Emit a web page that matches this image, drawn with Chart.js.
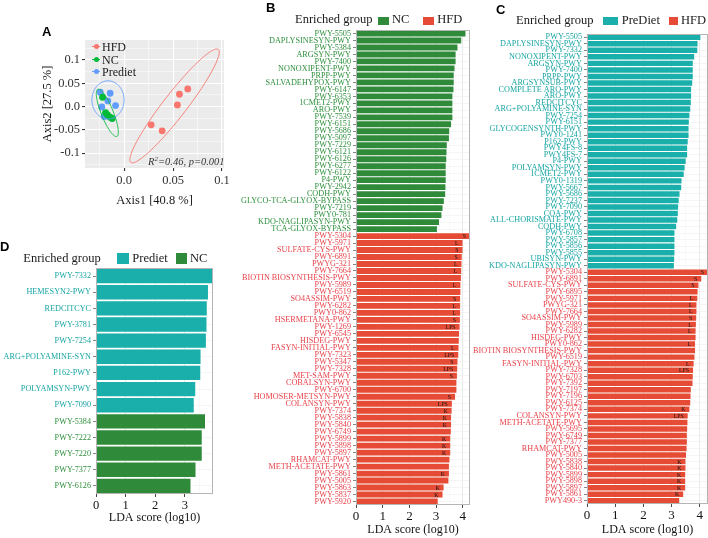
<!DOCTYPE html>
<html>
<head>
<meta charset="utf-8">
<script src="https://cdn.jsdelivr.net/npm/chart.js@4.4.0/dist/chart.umd.min.js"></script>
<style>
    body { margin: 0; background: #fff; width: 708px; height: 538px; position: relative; overflow: hidden; font-family: 'Liberation Serif', 'Times New Roman', serif; }
    canvas { position: absolute; }
    .letter { position: absolute; font: bold 13px 'Liberation Sans', Arial, sans-serif; line-height: 1; }
    .txt { position: absolute; white-space: nowrap; font-size: 12.5px; line-height: 1; color: #1a1a1a; }
    .sw { position: absolute; }
    .dot { position: absolute; width: 5px; height: 5px; border-radius: 50%; }
    .ln { position: absolute; width: 8px; height: 1px; }
</style>
</head>
<body>
<canvas id="chartA" width="240" height="215" style="left:0;top:0"></canvas>
<canvas id="chartB" width="230" height="538" style="left:240px;top:0"></canvas>
<canvas id="chartC" width="238" height="538" style="left:470px;top:0"></canvas>
<canvas id="chartD" width="240" height="313" style="left:0;top:225px"></canvas>

<!-- panel letters -->
<div class="letter" style="left:42px;top:25px">A</div>
<div class="letter" style="left:266px;top:1px">B</div>
<div class="letter" style="left:496px;top:3px">C</div>
<div class="letter" style="left:0;top:240px">D</div>

<!-- A legend -->
<div class="ln" style="left:92px;top:46px;background:#F8766D"></div><div class="dot" style="left:93.5px;top:44px;background:#F8766D"></div>
<div class="txt" style="left:102px;top:40.5px;font-size:12px">HFD</div>
<div class="ln" style="left:92px;top:59px;background:#00BA38"></div><div class="dot" style="left:93.5px;top:57px;background:#00BA38"></div>
<div class="txt" style="left:102px;top:53.5px;font-size:12px">NC</div>
<div class="ln" style="left:92px;top:71px;background:#619CFF"></div><div class="dot" style="left:93.5px;top:69px;background:#619CFF"></div>
<div class="txt" style="left:102px;top:65.5px;font-size:12px">Prediet</div>
<div class="txt" style="left:148px;top:156px;font-size:10.5px;font-style:italic;color:#333">R<sup style="font-size:7px;vertical-align:4px">2</sup>=0.46, p=0.001</div>

<!-- B legend -->
<div class="txt" style="left:295px;top:13px">Enriched group</div>
<div class="sw" style="left:377.7px;top:17px;width:11.3px;height:8.3px;background:#2F8B3A"></div>
<div class="txt" style="left:392px;top:13px">NC</div>
<div class="sw" style="left:422.7px;top:17px;width:11.3px;height:8.3px;background:#E64B35"></div>
<div class="txt" style="left:437.3px;top:13px">HFD</div>

<!-- C legend -->
<div class="txt" style="left:516px;top:14px">Enriched group</div>
<div class="sw" style="left:603.3px;top:16.7px;width:15px;height:8.3px;background:#1AAFAA"></div>
<div class="txt" style="left:621.7px;top:14px">PreDiet</div>
<div class="sw" style="left:669px;top:16.7px;width:9.3px;height:8.3px;background:#E64B35"></div>
<div class="txt" style="left:681px;top:14px">HFD</div>

<!-- D legend -->
<div class="txt" style="left:23.3px;top:251.5px">Enriched group</div>
<div class="sw" style="left:116.7px;top:253.3px;width:12.6px;height:11px;background:#1AAFAA"></div>
<div class="txt" style="left:132.3px;top:252px">Prediet</div>
<div class="sw" style="left:175.7px;top:253.3px;width:11.3px;height:11px;background:#2F8B3A"></div>
<div class="txt" style="left:190px;top:252px">NC</div>

<script>
// ---- Panel A: PCoA ----
const hfdX = [0.0565, 0.0650, 0.0544, 0.0276, 0.0388];
const hfdY = [0.0264, 0.0379, 0.0036, -0.0393, -0.0521];
const ncX = [-0.0221, -0.0190, -0.0170, -0.0143, -0.0122];
const ncY = [0.0200, -0.0129, -0.0179, -0.0229, -0.0257];
const prediX = [-0.0245, -0.0143, -0.0167, -0.0088, -0.0228, -0.0204];
const prediY = [0.0307, 0.0286, 0.0121, 0.0021, -0.0007, -0.0214];

// ellipses: group, center, major and minor half-axis vectors (data units)
const ellGroup = ['HFD', 'NC', 'Prediet'];
const ellCx = [0.0515, -0.0172, -0.0165];
const ellCy = [0.0014, -0.0136, 0.0143];
const ellAx = [0.0447, 0.0097, 0.0];
const ellAy = [0.1214, -0.0507, 0.0410];
const ellBx = [0.0094, 0.0057, 0.0164];
const ellBy = [-0.0153, 0.0048, 0.0];

const aXTicks = [0, 0.05, 0.1];
const aXTickText = ['0.0', '0.05', '0.1'];
const aXGrid = [-0.025, 0, 0.025, 0.05, 0.075, 0.1];
const aYTicks = [-0.1, -0.05, 0, 0.05, 0.1];
const aYTickText = ['-0.1', '-0.05', '0.0', '0.05', '0.1'];
const aYGrid = [-0.125, -0.1, -0.075, -0.05, -0.025, 0, 0.025, 0.05, 0.075, 0.1, 0.125];

// ---- Panel B: NC vs HFD ----
const bNcPaths = ['PWY-5505', 'DAPLYSINESYN-PWY', 'PWY-5384', 'ARGSYN-PWY', 'PWY-7400', 'NONOXIPENT-PWY', 'PRPP-PWY',
    'SALVADEHYPOX-PWY', 'PWY-6147', 'PWY-6353', '1CMET2-PWY', 'ARO-PWY', 'PWY-7539', 'PWY-6151', 'PWY-5686', 'PWY-5097',
    'PWY-7229', 'PWY-6121', 'PWY-6126', 'PWY-6277', 'PWY-6122', 'P4-PWY', 'PWY-2942', 'CODH-PWY', 'GLYCO-TCA-GLYOX-BYPASS',
    'PWY-7219', 'PWY0-781', 'KDO-NAGLIPASYN-PWY', 'TCA-GLYOX-BYPASS'];
const bNcLda = [4.10, 3.94, 3.80, 3.73, 3.73, 3.69, 3.66, 3.66, 3.65, 3.61, 3.61, 3.61, 3.61, 3.56, 3.49, 3.48,
    3.40, 3.39, 3.38, 3.36, 3.36, 3.36, 3.35, 3.34, 3.29, 3.24, 3.20, 3.11, 3.03];
const bHfdPaths = ['PWY-5304', 'PWY-5971', 'SULFATE-CYS-PWY', 'PWY-6891', 'PWYG-321', 'PWY-7664', 'BIOTIN BIOSYNTHESIS-PWY',
    'PWY-5989', 'PWY-6519', 'SO4ASSIM-PWY', 'PWY-6282', 'PWY0-862', 'HSERMETANA-PWY', 'PWY-1269', 'PWY-6545', 'HISDEG-PWY',
    'FASYN-INITIAL-PWY', 'PWY-7323', 'PWY-5347', 'PWY-7328', 'MET-SAM-PWY', 'COBALSYN-PWY', 'PWY-6700', 'HOMOSER-METSYN-PWY',
    'COLANSYN-PWY', 'PWY-7374', 'PWY-5838', 'PWY-5840', 'PWY-6749', 'PWY-5899', 'PWY-5898', 'PWY-5897', 'RHAMCAT-PWY',
    'METH-ACETATE-PWY', 'PWY-5861', 'PWY-5005', 'PWY-5863', 'PWY-5837', 'PWY-5920'];
const bHfdLda = [4.32, 3.99, 3.99, 3.96, 3.95, 3.94, 3.93, 3.91, 3.91, 3.90, 3.90, 3.90, 3.89, 3.88, 3.86, 3.85,
    3.84, 3.83, 3.80, 3.79, 3.78, 3.76, 3.76, 3.71, 3.59, 3.58, 3.56, 3.56, 3.55, 3.53, 3.53, 3.53, 3.50,
    3.48, 3.48, 3.46, 3.28, 3.24, 3.06];
const bHfdTags = ['S', 'L', 'S', 'S', 'L', 'L', '', 'L', '', 'S', 'L', 'L', 'S', 'LPS', '', '', 'L', 'LPS', 'S', 'LPS', 'S',
    '', '', 'S', 'LPS', 'K', 'K', 'K', '', 'K', 'K', 'K', '', '', 'K', '', 'K', 'K', ''];

// ---- Panel C: PreDiet vs HFD ----
const cPrePaths = ['PWY-5505', 'DAPLYSINESYN-PWY', 'PWY-7332', 'NONOXIPENT-PWY', 'ARGSYN-PWY', 'PWY-7400', 'PRPP-PWY',
    'ARGSYNSUB-PWY', 'COMPLETE ARO-PWY', 'ARO-PWY', 'REDCITCYC', 'ARG+POLYAMINE-SYN', 'PWY-7254', 'PWY-6151',
    'GLYCOGENSYNTH-PWY', 'PWY0-1241', 'P162-PWY', 'PWY4FS-8', 'PWY4FS-7', 'P4-PWY', 'POLYAMSYN-PWY', '1CMET2-PWY',
    'PWY0-1319', 'PWY-5667', 'PWY-5686', 'PWY-7237', 'PWY-7090', 'COA-PWY', 'ALL-CHORISMATE-PWY', 'CODH-PWY',
    'PWY-6708', 'PWY-5857', 'PWY-5856', 'PWY-5855', 'UBISYN-PWY', 'KDO-NAGLIPASYN-PWY'];
const cPreLda = [4.02, 3.92, 3.91, 3.80, 3.75, 3.75, 3.75, 3.73, 3.69, 3.69, 3.68, 3.66, 3.63, 3.61, 3.60, 3.60,
    3.57, 3.55, 3.55, 3.50, 3.46, 3.43, 3.35, 3.34, 3.28, 3.25, 3.23, 3.22, 3.20, 3.16, 3.10, 3.10, 3.10, 3.10, 3.09, 3.08];
const cHfdPaths = ['PWY-5304', 'PWY-6891', 'SULFATE-CYS-PWY', 'PWY-6895', 'PWY-5971', 'PWYG-321', 'PWY-7664',
    'SO4ASSIM-PWY', 'PWY-5989', 'PWY-6282', 'HISDEG-PWY', 'PWY0-862', 'BIOTIN BIOSYNTHESIS-PWY', 'PWY-6519',
    'FASYN-INITIAL-PWY', 'PWY-7328', 'PWY-6703', 'PWY-7392', 'PWY-7197', 'PWY-7196', 'PWY-6125', 'PWY-7374',
    'COLANSYN-PWY', 'METH-ACETATE-PWY', 'PWY-5695', 'PWY-6749', 'PWY-7377', 'RHAMCAT-PWY', 'PWY-5005', 'PWY-5838',
    'PWY-5840', 'PWY-5899', 'PWY-5898', 'PWY-5897', 'PWY-5861', 'PWY490-3'];
const cHfdLda = [4.35, 4.05, 3.95, 3.92, 3.91, 3.88, 3.88, 3.87, 3.86, 3.85, 3.85, 3.83, 3.83, 3.81, 3.78, 3.76,
    3.75, 3.74, 3.68, 3.67, 3.66, 3.63, 3.57, 3.56, 3.55, 3.54, 3.54, 3.53, 3.51, 3.49, 3.49, 3.48, 3.48, 3.48, 3.41, 3.27];
const cHfdTags = ['S', 'S', 'S', '', 'L', 'L', 'L', 'S', 'L', 'L', '', 'L', '', '', 'L', 'LPS', '', '', '', '', '', 'K',
    'LPS', '', '', '', '', '', '', 'K', 'K', 'K', 'K', 'K', 'K', ''];

// ---- Panel D: Prediet vs NC ----
const dPrePaths = ['PWY-7332', 'HEMESYN2-PWY', 'REDCITCYC', 'PWY-3781', 'PWY-7254', 'ARG+POLYAMINE-SYN', 'P162-PWY',
    'POLYAMSYN-PWY', 'PWY-7090'];
const dPreLda = [3.93, 3.78, 3.74, 3.73, 3.71, 3.53, 3.52, 3.35, 3.30];
const dNcPaths = ['PWY-5384', 'PWY-7222', 'PWY-7220', 'PWY-7377', 'PWY-6126'];
const dNcLda = [3.68, 3.57, 3.57, 3.36, 3.19];

const ldaTicks = [0, 1, 2, 3, 4];
const ldaGrid = [0, 0.5, 1, 1.5, 2, 2.5, 3, 3.5, 4];

const COLORS = {
    HFD: '#E64B35', NC: '#2F8B3A', PreDiet: '#1AAFAA',
    HFDText: '#E8434B', NCText: '#2E8F3C', PreDietText: '#17A5A3',
    pcoa: { HFD: '#F8766D', NC: '#00BA38', Prediet: '#619CFF' }
};
const SERIF = "'Liberation Serif', 'Times New Roman', serif";

// small plugins
function panelBg(color) {
    return {
        id: 'panelBg',
        beforeDraw(chart) {
            const a = chart.chartArea;
            chart.ctx.save();
            chart.ctx.fillStyle = color;
            chart.ctx.fillRect(a.left, a.top, a.right - a.left, a.bottom - a.top);
            chart.ctx.restore();
        }
    };
}

const panelBox = {
    id: 'panelBox',
    afterDraw(chart) {
        const a = chart.chartArea, ctx = chart.ctx;
        ctx.save();
        ctx.strokeStyle = '#b5b5b5';
        ctx.lineWidth = 1;
        ctx.strokeRect(a.left + 0.5, a.top + 0.5, a.right - a.left - 1, a.bottom - a.top - 1);
        ctx.restore();
    }
};

function barTags(tags) {
    return {
        id: 'barTags',
        afterDatasetsDraw(chart) {
            const meta = chart.getDatasetMeta(0), ctx = chart.ctx;
            ctx.save();
            ctx.font = '5.8px ' + SERIF;
            ctx.fillStyle = '#111';
            ctx.textAlign = 'right';
            ctx.textBaseline = 'middle';
            tags.forEach((t, i) => {
                if (!t) return;
                const bar = meta.data[i];
                ctx.fillText(t, Math.min(bar.x, chart.chartArea.right) - 4, bar.y + 0.5);
            });
            ctx.restore();
        }
    };
}

const ellipses = {
    id: 'ellipses',
    afterDatasetsDraw(chart) {
        const xs = chart.scales.x, ys = chart.scales.y, ctx = chart.ctx;
        ctx.save();
        ctx.lineWidth = 0.9;
        ellGroup.forEach((g, k) => {
            ctx.beginPath();
            for (let s = 0; s <= 144; s++) {
                const t = s / 144 * Math.PI * 2;
                const vx = ellCx[k] + ellAx[k] * Math.cos(t) + ellBx[k] * Math.sin(t);
                const vy = ellCy[k] + ellAy[k] * Math.cos(t) + ellBy[k] * Math.sin(t);
                const px = xs.getPixelForValue(vx), py = ys.getPixelForValue(vy);
                if (s === 0) ctx.moveTo(px, py); else ctx.lineTo(px, py);
            }
            ctx.closePath();
            ctx.strokeStyle = COLORS.pcoa[g];
            ctx.stroke();
        });
        ctx.restore();
    }
};

const near = (a, b) => Math.abs(a - b) < 1e-7;
const inList = (list, v) => list.some(t => near(t, v));
const fixTicks = vals => s => { s.ticks = vals.map(v => ({ value: v })); };

const Panels = {
    initPcoa: function() {
        const pts = (xs, ys) => xs.map((x, i) => ({ x: x, y: ys[i] }));
        const tickText = (vals, text) => v => {
            const i = vals.findIndex(t => near(t, v));
            return i < 0 ? '' : text[i];
        };
        const gridOpts = major => ({
            color: '#ffffff',
            lineWidth: c => inList(major, c.tick.value) ? 1.1 : 0.5,
            tickColor: c => inList(major, c.tick.value) ? '#333' : 'rgba(0,0,0,0)',
            tickLength: 3
        });
        new Chart(document.getElementById('chartA'), {
            type: 'scatter',
            data: {
                datasets: [
                    { label: 'NC', data: pts(ncX, ncY), backgroundColor: COLORS.pcoa.NC },
                    { label: 'Prediet', data: pts(prediX, prediY), backgroundColor: COLORS.pcoa.Prediet },
                    { label: 'HFD', data: pts(hfdX, hfdY), backgroundColor: COLORS.pcoa.HFD }
                ]
            },
            options: {
                responsive: false,
                animation: false,
                devicePixelRatio: 1,
                elements: { point: { radius: 3.4, borderWidth: 0 } },
                layout: { padding: { left: 38, right: 16, top: 40, bottom: 3 } },
                plugins: { legend: { display: false }, tooltip: { enabled: false } },
                scales: {
                    x: {
                        min: -0.04, max: 0.102,
                        border: { display: false },
                        grid: gridOpts(aXTicks),
                        afterBuildTicks: fixTicks(aXGrid),
                        ticks: {
                            autoSkip: false, maxRotation: 0,
                            padding: 2, color: '#333', font: { family: SERIF, size: 12.5 },
                            callback: tickText(aXTicks, aXTickText)
                        },
                        title: { display: true, text: 'Axis1 [40.8 %]', color: '#1a1a1a', font: { family: SERIF, size: 12.5 }, padding: { top: 0, bottom: 4 } },
                        afterFit: s => { s.height = 44; }
                    },
                    y: {
                        min: -0.132, max: 0.143,
                        border: { display: false },
                        grid: gridOpts(aYTicks),
                        afterBuildTicks: fixTicks(aYGrid),
                        ticks: {
                            autoSkip: false,
                            padding: 2, color: '#333', font: { family: SERIF, size: 12.5 },
                            callback: tickText(aYTicks, aYTickText)
                        },
                        title: { display: true, text: 'Axis2 [27.5 %]', color: '#1a1a1a', font: { family: SERIF, size: 12.5 }, padding: { top: 2, bottom: 0 } },
                        afterFit: s => { s.width = 47; }
                    }
                }
            },
            plugins: [panelBg('#EBEBEB'), ellipses]
        });
    },

    initLda: function(id, cfg) {
        const labels = cfg.topPaths.concat(cfg.bottomPaths);
        const values = cfg.topLda.concat(cfg.bottomLda);
        const inTop = i => i < cfg.topPaths.length;
        const tags = cfg.topPaths.map(() => '').concat(cfg.bottomTags || cfg.bottomPaths.map(() => ''));
        new Chart(document.getElementById(id), {
            type: 'bar',
            data: {
                labels: labels,
                datasets: [{
                    data: values,
                    backgroundColor: labels.map((l, i) => inTop(i) ? cfg.topColor : cfg.bottomColor),
                    borderWidth: 0,
                    barPercentage: cfg.barPct,
                    categoryPercentage: 1
                }]
            },
            options: {
                indexAxis: 'y',
                responsive: false,
                animation: false,
                devicePixelRatio: 1,
                layout: { padding: cfg.padding },
                plugins: { legend: { display: false }, tooltip: { enabled: false } },
                scales: {
                    x: {
                        min: 0, max: cfg.xMax,
                        border: { display: false },
                        afterBuildTicks: fixTicks(ldaGrid.filter(v => v <= cfg.xMax)),
                        grid: {
                            color: c => inList(ldaTicks, c.tick.value) ? '#e6e6e6' : '#f3f3f3',
                            lineWidth: c => inList(ldaTicks, c.tick.value) ? 0.9 : 0.5,
                            tickColor: c => inList(ldaTicks, c.tick.value) ? '#333' : 'rgba(0,0,0,0)',
                            tickLength: 3
                        },
                        ticks: {
                            autoSkip: false, maxRotation: 0, padding: 1,
                            color: '#111', font: { family: SERIF, size: cfg.tickSize },
                            callback: v => inList(ldaTicks, v) ? String(Math.round(v)) : ''
                        },
                        title: { display: true, text: 'LDA score (log10)', color: '#111', font: { family: SERIF, size: 12 }, padding: { top: 0, bottom: 1 } },
                        afterFit: s => { s.height = cfg.xHeight; }
                    },
                    y: {
                        border: { display: false },
                        grid: { offset: false, color: '#efefef', lineWidth: 0.6, tickColor: '#333', tickLength: 3 },
                        ticks: {
                            autoSkip: false, padding: 2,
                            font: { family: SERIF, size: 8.2 },
                            color: c => inTop(c.index) ? cfg.topText : cfg.bottomText
                        },
                        afterFit: s => { s.width = cfg.yWidth; }
                    }
                }
            },
            plugins: [panelBox, barTags(tags)]
        });
    }
};

Panels.initPcoa();

Panels.initLda('chartB', {
    topPaths: bNcPaths, topLda: bNcLda, topColor: COLORS.NC, topText: COLORS.NCText,
    bottomPaths: bHfdPaths, bottomLda: bHfdLda, bottomTags: bHfdTags, bottomColor: COLORS.HFD, bottomText: COLORS.HFDText,
    xMax: 4.27, yWidth: 116, xHeight: 33, tickSize: 13, barPct: 0.84,
    padding: { left: 0, right: 0, top: 30, bottom: 0 }
});

Panels.initLda('chartC', {
    topPaths: cPrePaths, topLda: cPreLda, topColor: COLORS.PreDiet, topText: COLORS.PreDietText,
    bottomPaths: cHfdPaths, bottomLda: cHfdLda, bottomTags: cHfdTags, bottomColor: COLORS.HFD, bottomText: COLORS.HFDText,
    xMax: 4.29, yWidth: 117, xHeight: 34, tickSize: 13, barPct: 0.84,
    padding: { left: 0, right: 0, top: 34, bottom: 0 }
});

Panels.initLda('chartD', {
    topPaths: dPrePaths, topLda: dPreLda, topColor: COLORS.PreDiet, topText: COLORS.PreDietText,
    bottomPaths: dNcPaths, bottomLda: dNcLda, bottomColor: COLORS.NC, bottomText: COLORS.NCText,
    xMax: 3.95, yWidth: 96, xHeight: 32, tickSize: 12.5, barPct: 0.89,
    padding: { left: 0, right: 27, top: 43, bottom: 12 }
});
</script>
</body>
</html>
